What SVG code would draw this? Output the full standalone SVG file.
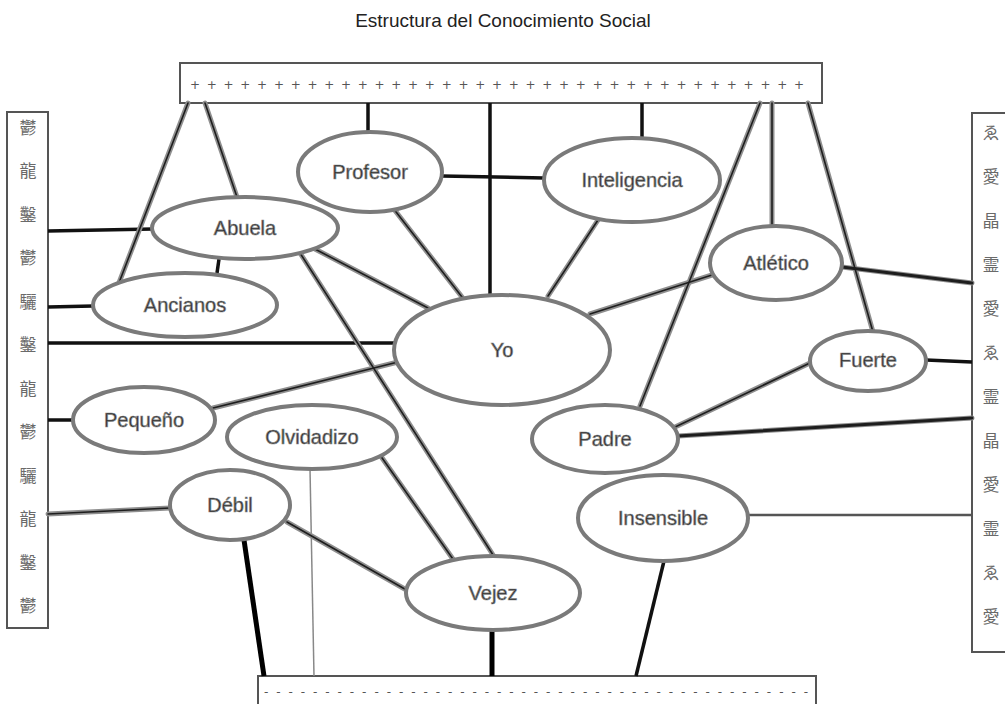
<svg xmlns="http://www.w3.org/2000/svg" xmlns:xlink="http://www.w3.org/1999/xlink" width="1005" height="704" viewBox="0 0 1005 704">
  <style>
    .title { font-family: "Liberation Sans", Arial, sans-serif; font-size: 19px; fill: #222; text-anchor: middle; }
    .box { fill: #fff; stroke: #555; stroke-width: 2; }
    .node ellipse { fill: #fff; stroke: #7a7a7a; stroke-width: 4; }
    .node text { font-family: "Liberation Sans", Arial, sans-serif; font-size: 20px; fill: #2a2a2a; stroke: #8a8a8a; stroke-width: 0.7; text-anchor: middle; }
    .glyph { font-family: "Noto Sans CJK SC", "DejaVu Sans", sans-serif; font-size: 17px; fill: #6a6a6a; text-anchor: middle; }
    .marks { font-family: "DejaVu Sans", sans-serif; font-size: 12px; fill: #555; }
    .halo { fill: none; stroke: #8f8f8f; stroke-width: 5; stroke-linecap: round; }
    .core { fill: none; stroke: #1e1e1e; stroke-width: 1.6; stroke-linecap: round; }
    .thick { fill: none; stroke: #111; stroke-width: 3.5; }
    .heavy { fill: none; stroke: #000; stroke-width: 5; }
    .plain { fill: none; stroke: #555; stroke-width: 2.5; }
    .fine { fill: none; stroke: #888; stroke-width: 1.5; }
  </style>
  <defs>
    <!-- fuzzy connectors: drawn twice, grey halo then dark core -->
    <path id="f_top_anc" d="M188,103 L117,288"/>
    <path id="f_top_abu" d="M205,103 L237,197"/>
    <path id="f_top_pad" d="M760,103 L640,406"/>
    <path id="f_top_atl" d="M772,103 L772,227"/>
    <path id="f_top_fue" d="M808,103 L873,332"/>
    <path id="f_l_deb" d="M48,514 L170,508"/>
    <path id="f_prof_yo" d="M393,208 L462,297"/>
    <path id="f_int_yo" d="M598,220 L548,296"/>
    <path id="f_atl_yo" d="M712,275 L590,314"/>
    <path id="f_abu_yo" d="M313,248 L428,308"/>
    <path id="f_abu_vej" d="M300,253 L495,558"/>
    <path id="f_peq_yo" d="M213,408 L398,362"/>
    <path id="f_olv_vej" d="M380,455 L455,562"/>
    <path id="f_deb_vej" d="M287,522 L410,592"/>
    <path id="f_fue_pad" d="M812,362 L673,428"/>
    <path id="f_pad_r" d="M678,436 L972,418"/>
    <path id="f_atl_r" d="M842,267 L972,283"/>
  </defs>

  <rect width="1005" height="704" fill="#fff"/>

  <text class="title" x="503" y="27">Estructura del Conocimiento Social</text>

  <!-- frames along the edges -->
  <g id="top-frame">
    <rect class="box" x="180" y="63" width="642" height="40"/>
    <text class="marks" x="190" y="89" textLength="614" lengthAdjust="spacing">+++++++++++++++++++++++++++++++++++++</text>
  </g>
  <g id="left-frame">
    <rect class="box" x="7" y="112" width="41" height="516"/>
    <g class="glyph">
      <text x="28" y="134">鬱</text><text x="28" y="177">龍</text><text x="28" y="221">鑿</text>
      <text x="28" y="264">鬱</text><text x="28" y="308">驪</text><text x="28" y="351">鑿</text>
      <text x="28" y="395">龍</text><text x="28" y="438">鬱</text><text x="28" y="482">驪</text>
      <text x="28" y="525">龍</text><text x="28" y="569">鑿</text><text x="28" y="612">鬱</text>
    </g>
  </g>
  <g id="right-frame">
    <rect class="box" x="972" y="113" width="40" height="539"/>
    <g class="glyph">
      <text x="991" y="139">ゑ</text><text x="991" y="183">愛</text><text x="991" y="227">晶</text>
      <text x="991" y="271">霊</text><text x="991" y="315">愛</text><text x="991" y="359">ゑ</text>
      <text x="991" y="403">霊</text><text x="991" y="447">晶</text><text x="991" y="491">愛</text>
      <text x="991" y="535">霊</text><text x="991" y="579">ゑ</text><text x="991" y="623">愛</text>
    </g>
  </g>
  <g id="bottom-frame">
    <rect class="box" x="258" y="676" width="558" height="40"/>
    <text class="marks" x="264" y="696" textLength="544" lengthAdjust="spacing">---------------------------------------------</text>
  </g>

  <g id="connectors">
    <!-- solid black links -->
    <path class="thick" d="M368,103 V133"/>
    <path class="thick" d="M490,103 V296"/>
    <path class="thick" d="M642,103 V138"/>
    <path class="thick" d="M48,231 L153,229"/>
    <path class="thick" d="M48,307 L93,306"/>
    <path class="thick" d="M48,343 L396,343"/>
    <path class="thick" d="M48,420 L73,420"/>
    <path class="thick" d="M219,259 L217,273"/>
    <path class="thick" d="M442,176 L544,178"/>
    <path class="thick" d="M926,360 L972,362"/>
    <path class="plain" d="M748,515 H972"/>
    <path class="heavy" d="M244,540 L264,676"/>
    <path class="fine" d="M310,469 L314,676"/>
    <path class="heavy" d="M492,630 V676"/>
    <path class="thick" d="M664,561 L636,676"/>
    <!-- grey halo pass -->
    <g class="halo">
      <use xlink:href="#f_top_anc"/><use xlink:href="#f_top_abu"/><use xlink:href="#f_top_pad"/>
      <use xlink:href="#f_top_atl"/><use xlink:href="#f_top_fue"/><use xlink:href="#f_l_deb"/>
      <use xlink:href="#f_prof_yo"/><use xlink:href="#f_int_yo"/><use xlink:href="#f_atl_yo"/>
      <use xlink:href="#f_abu_yo"/><use xlink:href="#f_abu_vej"/><use xlink:href="#f_peq_yo"/>
      <use xlink:href="#f_olv_vej"/><use xlink:href="#f_deb_vej"/><use xlink:href="#f_fue_pad"/>
      <use xlink:href="#f_pad_r"/><use xlink:href="#f_atl_r"/>
    </g>
    <!-- dark core pass -->
    <g class="core">
      <use xlink:href="#f_top_anc"/><use xlink:href="#f_top_abu"/><use xlink:href="#f_top_pad"/>
      <use xlink:href="#f_top_atl"/><use xlink:href="#f_top_fue"/><use xlink:href="#f_l_deb"/>
      <use xlink:href="#f_prof_yo"/><use xlink:href="#f_int_yo"/><use xlink:href="#f_atl_yo"/>
      <use xlink:href="#f_abu_yo"/><use xlink:href="#f_abu_vej"/><use xlink:href="#f_peq_yo"/>
      <use xlink:href="#f_olv_vej"/><use xlink:href="#f_deb_vej"/><use xlink:href="#f_fue_pad"/>
      <use xlink:href="#f_pad_r" style="stroke-width:3"/><use xlink:href="#f_atl_r" style="stroke-width:3"/>
    </g>
  </g>

  <g id="profesor" class="node"><ellipse cx="370" cy="172" rx="72" ry="40"/><text x="370" y="179">Profesor</text></g>
  <g id="abuela" class="node"><ellipse cx="245" cy="228" rx="93" ry="31"/><text x="245" y="235">Abuela</text></g>
  <g id="ancianos" class="node"><ellipse cx="185" cy="305" rx="92" ry="32"/><text x="185" y="312">Ancianos</text></g>
  <g id="inteligencia" class="node"><ellipse cx="632" cy="180" rx="88" ry="42"/><text x="632" y="187">Inteligencia</text></g>
  <g id="atletico" class="node"><ellipse cx="776" cy="263" rx="66" ry="37"/><text x="776" y="270">Atlético</text></g>
  <g id="yo" class="node"><ellipse cx="502" cy="350" rx="108" ry="55"/><text x="502" y="357">Yo</text></g>
  <g id="fuerte" class="node"><ellipse cx="868" cy="361" rx="58" ry="30"/><text x="868" y="367">Fuerte</text></g>
  <g id="padre" class="node"><ellipse cx="605" cy="439" rx="73" ry="34"/><text x="605" y="446">Padre</text></g>
  <g id="insensible" class="node"><ellipse cx="663" cy="518" rx="85" ry="43"/><text x="663" y="525">Insensible</text></g>
  <g id="pequeno" class="node"><ellipse cx="144" cy="420" rx="71" ry="33"/><text x="144" y="427">Pequeño</text></g>
  <g id="olvidadizo" class="node"><ellipse cx="312" cy="437" rx="85" ry="32"/><text x="312" y="444">Olvidadizo</text></g>
  <g id="debil" class="node"><ellipse cx="230" cy="505" rx="60" ry="35"/><text x="230" y="512">Débil</text></g>
  <g id="vejez" class="node"><ellipse cx="493" cy="593" rx="87" ry="37"/><text x="493" y="600">Vejez</text></g>
</svg>
